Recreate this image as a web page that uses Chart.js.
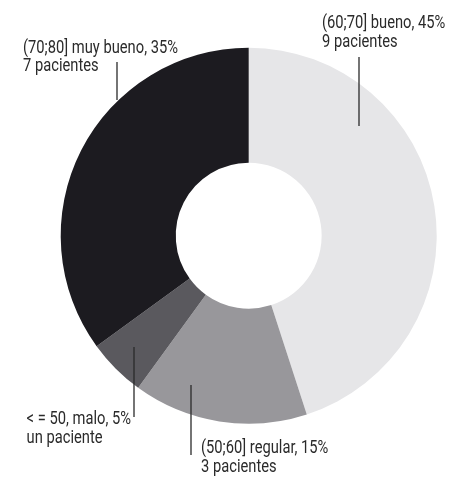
<!DOCTYPE html>
<html><head><meta charset="utf-8">
<script src="https://cdn.jsdelivr.net/npm/chart.js@4"></script>
<style>html,body{margin:0;padding:0;background:#fff;}#wrap{width:454px;height:477px;position:relative;}</style>
</head><body><div id="wrap"><canvas id="c" width="454" height="477"></canvas></div>
<script>
const categories = ["(60;70] bueno", "(50;60] regular", "< = 50, malo", "(70;80] muy bueno"];
const percents = [45, 15, 5, 35];
const patientLabels = ["9 pacientes", "3 pacientes", "un paciente", "7 pacientes"];
const colors = ["#e6e6e8", "#98979b", "#5a595e", "#1c1b20"];

// label layout (text anchor, alignment, leader line)
const labelLayout = [
  {tx: 322, ty: 28,  align: "left",  lx: 359, ly1: 57,  ly2: 126},
  {tx: 201, ty: 453, align: "left",  lx: 191, ly1: 385, ly2: 455},
  {tx: 131, ty: 424, align: "right", lx: 134, ly1: 347, ly2: 417},
  {tx: 23,  ty: 52.5,align: "left",  lx: 117, ly1: 62,  ly2: 100}
];
const lineGap = 18.7;
const refWidth = 155; // width of the "(70;80] muy bueno, 35%" line

const labelPlugin = {
  id: "labels",
  afterDraw(chart) {
    const ctx = chart.ctx;
    ctx.save();
    ctx.fillStyle = "#2a2a2a";
    ctx.strokeStyle = "#2a2a2a";
    ctx.lineWidth = 1.3;
    ctx.font = "19px Roboto, 'DejaVu Sans', sans-serif";
    ctx.textBaseline = "alphabetic";
    ctx.textAlign = "left";
    const sx = refWidth / ctx.measureText(categories[3] + ", " + percents[3] + "%").width;
    labelLayout.forEach((L, i) => {
      const t1 = categories[i] + ", " + percents[i] + "%";
      const w1 = ctx.measureText(t1).width * sx;
      const x0 = L.align === "right" ? L.tx - w1 : L.tx;
      ctx.save();
      ctx.translate(x0, 0);
      ctx.scale(sx, 1);
      ctx.fillText(t1, 0, L.ty);
      ctx.fillText(patientLabels[i], 0, L.ty + lineGap);
      ctx.restore();
      ctx.beginPath();
      ctx.moveTo(L.lx, L.ly1);
      ctx.lineTo(L.lx, L.ly2);
      ctx.stroke();
    });
    ctx.restore();
  }
};

new Chart(document.getElementById("c"), {
  type: "doughnut",
  data: {
    labels: categories,
    datasets: [{data: percents, backgroundColor: colors, borderWidth: 0, hoverOffset: 0}]
  },
  options: {
    responsive: false,
    animation: false,
    cutout: "38.8%",
    layout: {padding: {left: 60.7, right: 17.3, top: 47.7, bottom: 53.3}},
    plugins: {legend: {display: false}, tooltip: {enabled: false}}
  },
  plugins: [labelPlugin]
});
</script></body></html>
